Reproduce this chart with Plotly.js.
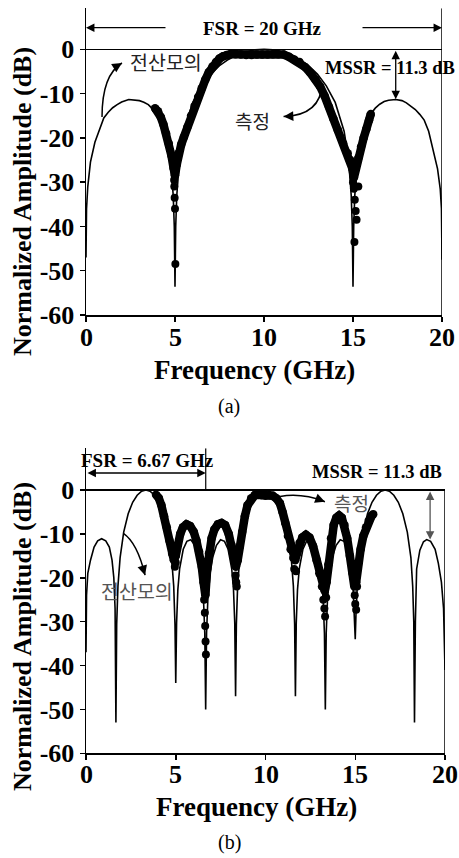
<!DOCTYPE html>
<html><head><meta charset="utf-8">
<script src="https://cdn.plot.ly/plotly-3.0.1.min.js"></script>
<style>html,body{margin:0;padding:0;background:#fff}#chart{width:459px;height:858px}</style>
</head><body><div id="chart"></div>
<script>
// ---------- data ----------
const xTicks = [0, 5, 10, 15, 20];
const yTicks = [-60, -50, -40, -30, -20, -10, 0];

// (a) simulation (전산모의)
const simA_x = [0, 0.03, 0.1, 0.25, 0.5, 0.75, 1.0, 1.25, 1.5, 1.75, 2.0, 2.4, 2.75, 3.0, 3.25, 3.5, 3.75, 4.0, 4.25, 4.5, 4.75, 4.9, 4.96, 5.0, 5.04, 5.1, 5.25, 5.5, 6.0, 6.5, 7.0, 7.5, 8.0, 8.5, 9.0, 9.5, 10.0, 10.5, 11.0, 11.5, 12.0, 12.5, 13.0, 13.5, 14.0, 14.5, 14.75, 14.9, 14.96, 15.0, 15.04, 15.1, 15.25, 15.5, 15.75, 16.0, 16.25, 16.5, 16.75, 17.0, 17.4, 17.75, 18.0, 18.25, 18.5, 18.75, 19.0, 19.25, 19.5, 19.75, 19.9, 19.97, 20.0];
const simA_y = [-47, -36, -31, -25.5, -21, -18, -15.5, -14.2, -13.2, -12.5, -11.9, -11.35, -11.4, -11.6, -11.95, -12.5, -13.5, -14.8, -16.9, -19.8, -25.5, -33, -40, -53.6, -40, -33, -25, -18.5, -12, -8.25, -5.6, -3.7, -2.3, -1.2, -0.54, -0.13, 0, -0.13, -0.54, -1.2, -2.3, -3.7, -5.6, -8.25, -12, -18.5, -24.8, -33, -40, -53.6, -40, -33, -25.5, -19.8, -16.9, -14.6, -13.3, -12.4, -11.8, -11.5, -11.35, -11.6, -12.1, -12.8, -13.6, -14.7, -16, -18.5, -22.5, -27, -31.5, -36, -47.5];

// (a) measurement (측정)
const measA_x = [3.88, 4.05, 4.2, 4.35, 4.5, 4.65, 4.8, 4.92, 5.0, 5.1, 5.2, 5.35, 5.5, 5.7, 5.9, 6.1, 6.3, 6.5, 6.7, 6.9, 7.1, 7.3, 7.5, 7.7, 7.9, 8.1, 8.4, 8.7, 9.0, 9.3, 9.6, 9.9, 10.2, 10.5, 10.8, 11.1, 11.4, 11.7, 12.0, 12.3, 12.6, 12.9, 13.15, 13.4, 13.65, 13.9, 14.15, 14.45, 14.7, 14.85, 14.97, 15.05, 15.15, 15.3, 15.45, 15.6, 15.75, 15.9, 16.0];
const measA_y = [-13.3, -14, -15.3, -17, -19, -21.3, -24, -26.8, -28.5, -26, -23.5, -21.5, -19.8, -17.5, -15, -12.8, -10.8, -8.8, -6.9, -5.2, -3.9, -2.9, -2.1, -1.6, -1.3, -1.1, -1.1, -1.2, -1.3, -1.3, -1.2, -1.2, -1.2, -1.1, -1.1, -1.2, -1.7, -2.3, -2.9, -4.0, -5.3, -6.8, -8.4, -10.5, -13, -15.7, -18.3, -21.3, -23.5, -25, -27, -29, -27, -24.5, -22, -20, -18, -16, -14.6];
const dotsA_x = [4.95, 4.96, 4.98, 5.0, 5.02, 15.0, 15.05, 15.1, 15.15, 15.2, 15.08, 15.3];
const dotsA_y = [-29.5, -31, -33.5, -36, -48.5, -30, -31.5, -34, -36.5, -38.5, -43.5, -31];

// (b) simulation (전산모의)
const simB_x = [0, 0.03, 0.1, 0.25, 0.45, 0.65, 0.87, 1.1, 1.3, 1.45, 1.55, 1.62, 1.667, 1.71, 1.78, 1.9, 2.1, 2.35, 2.6, 2.85, 3.1, 3.333, 3.567, 3.817, 4.067, 4.317, 4.567, 4.767, 4.887, 4.957, 5.0, 5.047, 5.117, 5.217, 5.417, 5.617, 5.837, 6.067, 6.267, 6.417, 6.547, 6.617, 6.667, 6.717, 6.787, 6.917, 7.067, 7.267, 7.497, 7.717, 7.917, 8.117, 8.217, 8.287, 8.333, 8.377, 8.447, 8.567, 8.767, 9.017, 9.267, 9.517, 9.767, 10.0, 10.233, 10.483, 10.733, 10.983, 11.233, 11.433, 11.553, 11.623, 11.667, 11.713, 11.783, 11.883, 12.083, 12.283, 12.503, 12.733, 12.933, 13.083, 13.213, 13.283, 13.333, 13.383, 13.453, 13.583, 13.733, 13.933, 14.163, 14.383, 14.583, 14.783, 14.883, 14.953, 15.0, 15.043, 15.113, 15.233, 15.433, 15.683, 15.933, 16.183, 16.433, 16.667, 16.9, 17.15, 17.4, 17.65, 17.9, 18.1, 18.2, 18.26, 18.3, 18.35, 18.42, 18.6, 18.8, 18.98, 19.2, 19.45, 19.63, 19.8, 19.92, 20.0];
const simB_y = [-37, -24, -19, -16, -13, -11.6, -11.1, -11.6, -13, -16, -20, -27, -53, -30.6, -21.9, -15.4, -9.6, -5.4, -2.8, -1.2, -0.26, 0, -0.26, -1.2, -2.8, -5.4, -9.6, -15.4, -21.9, -30.6, -44, -30.3, -22.7, -17.9, -13.5, -11.7, -11.35, -12.6, -15.2, -18.9, -25, -32.6, -50, -32.6, -25, -18.9, -15.2, -12.6, -11.35, -11.7, -13.5, -17.9, -22.7, -30.3, -47, -30.6, -21.9, -15.4, -9.6, -5.4, -2.8, -1.2, -0.26, 0, -0.26, -1.2, -2.8, -5.4, -9.6, -15.4, -21.9, -30.6, -47, -30.3, -22.7, -17.9, -13.5, -11.7, -11.35, -12.6, -15.2, -18.9, -25, -32.6, -50, -32.6, -25, -18.9, -15.2, -12.6, -11.35, -11.7, -13.5, -17.9, -22.7, -28, -34, -28, -21.9, -15.4, -9.6, -5.4, -2.8, -1.2, -0.26, 0, -0.26, -1.2, -2.8, -5.4, -9.6, -15.4, -21.9, -30, -53, -30, -18, -13.7, -11.8, -11.3, -11.7, -13.5, -16.7, -21, -27, -41];

// (b) measurement (측정)
const measB_x = [3.9, 4.05, 4.2, 4.35, 4.5, 4.65, 4.8, 4.9, 5.0, 5.1, 5.25, 5.4, 5.6, 5.8, 6.0, 6.15, 6.3, 6.45, 6.55, 6.65, 6.75, 6.85, 7.0, 7.15, 7.35, 7.55, 7.75, 7.95, 8.1, 8.25, 8.35, 8.45, 8.55, 8.7, 8.85, 9.0, 9.2, 9.4, 9.6, 9.8, 10.0, 10.2, 10.4, 10.6, 10.8, 10.95, 11.1, 11.25, 11.4, 11.55, 11.65, 11.75, 11.9, 12.05, 12.25, 12.45, 12.65, 12.85, 13.0, 13.15, 13.3, 13.4, 13.5, 13.65, 13.8, 13.95, 14.1, 14.25, 14.4, 14.55, 14.7, 14.85, 14.95, 15.05, 15.15, 15.3, 15.45, 15.6, 15.75, 15.9, 16.0];
const measB_y = [-1.1, -1.8, -3.5, -6, -8.5, -11.5, -14.5, -16, -15, -12.5, -10, -8.5, -7.8, -8.2, -9.5, -11.5, -14, -17.5, -21, -24, -18, -14.5, -11, -9, -7.8, -7.5, -8, -10, -12.5, -15.5, -17.5, -16, -13, -9.5, -6, -3.5, -1.9, -1.2, -1.1, -1.2, -1.3, -1.2, -1.3, -1.9, -3, -5, -7.5, -10.5, -13.5, -15.5, -16, -14.5, -12, -10.8, -10.2, -10.8, -12.8, -16, -19, -22, -23, -21, -17, -11, -8, -6.3, -5.8, -6.3, -8, -11, -15, -19, -22, -21, -17, -13.5, -10.5, -8.5, -7, -6, -5.5];
const dotsB_x = [4.95, 5.0, 6.58, 6.62, 6.64, 6.66, 6.68, 8.33, 8.37, 8.4, 11.6, 11.7, 13.22, 13.28, 13.32, 13.38, 14.97, 15.0, 15.05, 15.1];
const dotsB_y = [-17.5, -16.5, -25, -28, -31, -34.5, -37.5, -19.5, -21, -22, -18, -18.5, -25, -27, -28.8, -24.5, -24, -26, -27.3, -22];

// ---------- figure ----------
const W = 459, H = 858;
const SERIF = 'Liberation Serif';
const KR = 'Noto Sans CJK KR';
const px = v => v / W, py = v => 1 - v / H;
const bold = a => a.map(v => '<b>' + v + '</b>');

const simStyle = {mode: 'lines', line: {color: '#000', width: 1.6}, hoverinfo: 'skip'};
const measStyle = {mode: 'lines+markers', line: {color: '#000', width: 8.5}, marker: {color: '#000', size: 8.5}, hoverinfo: 'skip'};
const dotStyle = {mode: 'markers', marker: {color: '#000', size: 8}, hoverinfo: 'skip'};

const traces = [
  Object.assign({x: measA_x, y: measA_y, xaxis: 'x', yaxis: 'y'}, measStyle),
  Object.assign({x: dotsA_x, y: dotsA_y, xaxis: 'x', yaxis: 'y'}, dotStyle),
  Object.assign({x: simA_x, y: simA_y, xaxis: 'x', yaxis: 'y'}, simStyle),
  Object.assign({x: measB_x, y: measB_y, xaxis: 'x2', yaxis: 'y2'}, measStyle),
  Object.assign({x: dotsB_x, y: dotsB_y, xaxis: 'x2', yaxis: 'y2'}, dotStyle),
  Object.assign({x: simB_x, y: simB_y, xaxis: 'x2', yaxis: 'y2'}, simStyle)
];

const xaxisBase = {
  range: [0, 20], showline: true, linecolor: '#000', linewidth: 1.5,
  ticks: 'outside', ticklen: 5, tickwidth: 1.5, tickcolor: '#000',
  tickvals: xTicks, showticklabels: false,
  showgrid: false, zeroline: false, fixedrange: true
};
const yaxisBase = {
  showline: true, linecolor: '#000', linewidth: 1.5,
  ticks: 'outside', ticklen: 5, tickwidth: 1.5, tickcolor: '#000',
  tickvals: yTicks, ticktext: bold(yTicks),
  tickfont: {family: SERIF, size: 26, color: '#000', weight: 'bold'},
  showgrid: false, zeroline: true, zerolinecolor: '#000', zerolinewidth: 1.2, fixedrange: true
};

function label(x, y, text, size, family, color, extra) {
  return Object.assign({xref: 'paper', yref: 'paper', x: px(x), y: py(y), text: text,
    showarrow: false, xanchor: 'center', yanchor: 'middle',
    font: {family: family, size: size, color: color || '#000'}}, extra || {});
}
function arrow(xa, ya, x, y, ax, ay, opts) {
  return Object.assign({xref: xa, yref: ya, x: x, y: y, axref: xa, ayref: ya, ax: ax, ay: ay,
    text: '', showarrow: true, arrowhead: 2, arrowsize: 1.3, arrowwidth: 1.3, arrowcolor: '#000',
    standoff: 0, startstandoff: 0}, opts || {});
}
function headOnly(xa, ya, x, y, dx, dy, color) {
  return {xref: xa, yref: ya, x: x, y: y, ax: dx, ay: dy, text: '', showarrow: true,
    arrowhead: 2, arrowsize: 1.3, arrowwidth: 1.5, arrowcolor: color || '#000', standoff: 0};
}

const annotations = [
  // titles (a)
  label(22, 202, '<b>Normalized Amplitude (dB)</b>', 26, SERIF, '#000', {textangle: -90}),
  label(254, 370, '<b>Frequency (GHz)</b>', 27, SERIF),
  label(229, 406, '(a)', 20, SERIF),
  label(262, 28, '<b>FSR = 20 GHz</b>', 19, SERIF),
  label(390, 68, '<b>MSSR = 11.3 dB</b>', 18.5, SERIF),
  label(166, 62, '전산모의', 19.5, KR, '#222'),
  label(252, 121, '측정', 19, KR, '#222'),
  arrow('x', 'y', 0, 4.88, 4.55, 4.88),
  arrow('x', 'y', 20, 4.88, 15.45, 4.88),
  arrow('x', 'y', 17.4, -11.3, 17.4, 0, {arrowside: 'end+start'}),
  headOnly('x', 'y', 2.02, -3.1, -8, 5),
  headOnly('x', 'y', 11.1, -15.2, 10, -0.5),
  // titles (b)
  label(22, 637, '<b>Normalized Amplitude (dB)</b>', 26, SERIF, '#000', {textangle: -90}),
  label(256, 807, '<b>Frequency (GHz)</b>', 27, SERIF),
  label(230, 842, '(b)', 20, SERIF),
  label(147, 461, '<b>FSR = 6.67 GHz</b>', 19, SERIF),
  label(377, 472, '<b>MSSR = 11.3 dB</b>', 18.5, SERIF),
  label(137, 590, '전산모의', 19.5, KR, '#555'),
  label(351, 503, '측정', 19, KR, '#555'),
  arrow('x2', 'y2', 6.67, 3.87, 0, 3.87, {arrowside: 'end+start'}),
  arrow('x2', 'y2', 19.17, -11.3, 19.17, 0, {arrowside: 'end+start', arrowcolor: '#555'}),
  headOnly('x2', 'y2', 3.29, -19.4, -3, -10),
  headOnly('x2', 'y2', 13.31, -2.67, -9, -3.5)
];
// x tick labels (drawn as annotations for exact placement)
xTicks.forEach(v => {
  annotations.push({xref: 'x', yref: 'paper', x: v, y: py(337), text: '<b>' + v + '</b>', showarrow: false,
    xanchor: 'center', yanchor: 'middle', font: {family: SERIF, size: 26, color: '#000'}});
  annotations.push({xref: 'x2', yref: 'paper', x: v, y: py(774), text: '<b>' + v + '</b>', showarrow: false,
    xanchor: 'center', yanchor: 'middle', font: {family: SERIF, size: 26, color: '#000'}});
});

const shapes = [
  {type: 'line', xref: 'x', yref: 'y', x0: 20, x1: 20, y0: -60, y1: 9.25, line: {color: '#000', width: 1.5}},
  {type: 'line', xref: 'x2', yref: 'y2', x0: 20, x1: 20, y0: -60, y1: 0, line: {color: '#000', width: 1.5}},
  {type: 'line', xref: 'x2', yref: 'y2', x0: 6.67, x1: 6.67, y0: 0, y1: 9.5, line: {color: '#000', width: 1.2}},
  {type: 'path', xref: 'x', yref: 'y', path: 'M 0.9,-15.3 Q 0.9,-5.8 2.02,-3.1', line: {color: '#000', width: 1.5}},
  {type: 'path', xref: 'x', yref: 'y', path: 'M 13.26,-7.7 Q 13.2,-14.9 11.1,-15.2', line: {color: '#000', width: 1.5}},
  {type: 'path', xref: 'x2', yref: 'y2', path: 'M 2.08,-9.9 Q 2.85,-12.0 3.29,-19.4', line: {color: '#000', width: 1.5}},
  {type: 'path', xref: 'x2', yref: 'y2', path: 'M 10.81,-1.5 Q 12.0,-0.6 13.31,-2.67', line: {color: '#000', width: 1.5}}
];

const layout = {
  width: W, height: H, margin: {l: 0, r: 0, t: 0, b: 0},
  paper_bgcolor: '#fff', plot_bgcolor: '#fff', showlegend: false,
  xaxis: Object.assign({}, xaxisBase, {domain: [px(86), px(442)], anchor: 'y'}),
  yaxis: Object.assign({}, yaxisBase, {domain: [py(315), py(8.3)], range: [-60, 9.25], anchor: 'x'}),
  xaxis2: Object.assign({}, xaxisBase, {domain: [px(86), px(445)], anchor: 'y2'}),
  yaxis2: Object.assign({}, yaxisBase, {domain: [py(753.3), py(448.3)], range: [-60, 9.5], anchor: 'x2'}),
  annotations: annotations, shapes: shapes
};

Plotly.newPlot('chart', traces, layout, {displayModeBar: false, staticPlot: true});
</script></body></html>
